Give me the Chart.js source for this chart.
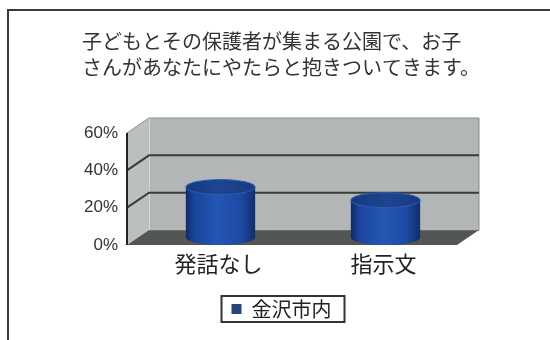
<!DOCTYPE html>
<html lang="ja">
<head>
<meta charset="utf-8">
<title>公園での抱きつき</title>
<script src="https://cdn.jsdelivr.net/npm/chart.js@4.4.1/dist/chart.umd.min.js"></script>
<style>
  html, body { margin: 0; padding: 0; background: #fff; overflow: hidden; }
  #wrap { position: relative; width: 550px; height: 340px; overflow: hidden; }
  #frame {
    position: absolute; left: 7px; top: 9px; width: 620px; height: 400px;
    border: 2px solid #3a3a3a; box-sizing: border-box;
  }
  #chartCanvas { position: absolute; left: 0; top: 0; }
</style>
</head>
<body>
<div id="wrap">
  <div id="frame"></div>
  <canvas id="chartCanvas" width="550" height="340"></canvas>
</div>
<script>
// --- Data ---
const titleLines = [
  "子どもとその保護者が集まる公園で、お子",
  "さんがあなたにやたらと抱きついてきます。"
];
const categories = ["発話なし", "指示文"];
const seriesName = "金沢市内";
const seriesValues = [27, 20];
const yTicks = [0, 20, 40, 60];

// depth of the 3D box (back wall offset from the front plane)
const DX = 22;
const DY = -15;

const JP = "'Noto Sans CJK JP', 'Noto Sans', sans-serif";

function poly(ctx, pts) {
  ctx.beginPath();
  ctx.moveTo(pts[0][0], pts[0][1]);
  for (let i = 1; i < pts.length; i++) ctx.lineTo(pts[i][0], pts[i][1]);
  ctx.closePath();
}

// --- Walls, floor and gridlines ---
const wallsPlugin = {
  id: "walls",
  beforeDatasetsDraw(chart) {
    const { ctx, chartArea: a, scales: { y } } = chart;
    const top = y.getPixelForValue(yTicks[yTicks.length - 1]);
    const bottom = y.getPixelForValue(0);
    ctx.save();

    // left side wall
    ctx.fillStyle = "#bcbfbf";
    poly(ctx, [[a.left, top], [a.left + DX, top + DY], [a.left + DX, bottom + DY], [a.left, bottom]]);
    ctx.fill();

    // back wall
    ctx.fillStyle = "#b3b6b6";
    ctx.fillRect(a.left + DX, top + DY, a.right - a.left, bottom - top);

    // back wall edges
    ctx.strokeStyle = "#8a8d8d";
    ctx.lineWidth = 1;
    ctx.beginPath();
    ctx.moveTo(a.left, top);
    ctx.lineTo(a.left + DX, top + DY);
    ctx.lineTo(a.right + DX, top + DY);
    ctx.lineTo(a.right + DX, bottom + DY);
    ctx.stroke();
    ctx.strokeStyle = "#d4d6d6";
    ctx.beginPath();
    ctx.moveTo(a.left + DX + 0.5, top + DY + 1);
    ctx.lineTo(a.left + DX + 0.5, bottom + DY);
    ctx.stroke();

    // gridlines across side and back walls
    ctx.strokeStyle = "#3a3c3c";
    ctx.lineWidth = 2;
    yTicks.slice(1, -1).forEach(v => {
      const py = y.getPixelForValue(v);
      ctx.beginPath();
      ctx.moveTo(a.left, py);
      ctx.lineTo(a.left + DX, py + DY);
      ctx.lineTo(a.right + DX, py + DY);
      ctx.stroke();
    });

    // floor
    ctx.fillStyle = "#545555";
    poly(ctx, [[a.left, bottom], [a.right, bottom], [a.right + DX, bottom + DY], [a.left + DX, bottom + DY]]);
    ctx.fill();
    ctx.strokeStyle = "#6a6b6b";
    ctx.lineWidth = 1;
    ctx.beginPath();
    ctx.moveTo(a.left + DX, bottom + DY + 0.5);
    ctx.lineTo(a.right + DX, bottom + DY + 0.5);
    ctx.stroke();

    // value axis line
    ctx.strokeStyle = "#222";
    ctx.lineWidth = 2;
    ctx.beginPath();
    ctx.moveTo(a.left, top);
    ctx.lineTo(a.left, bottom);
    ctx.stroke();
    ctx.restore();
  }
};

// --- Cylinders instead of flat bars ---
const cylinderPlugin = {
  id: "cylinders",
  beforeDatasetDraw(chart, args) {
    const ctx = chart.ctx;
    const meta = args.meta;
    const ry = 7.5;
    ctx.save();
    meta.data.forEach(bar => {
      const rx = bar.width / 2;
      const cx = bar.x + DX / 2;
      const yTop = bar.y + DY / 2;
      const yBase = bar.base + DY / 2;

      const body = ctx.createLinearGradient(cx - rx, 0, cx + rx, 0);
      body.addColorStop(0, "#0f2a66");
      body.addColorStop(0.12, "#1b449c");
      body.addColorStop(0.45, "#2456b4");
      body.addColorStop(0.8, "#1d4aa2");
      body.addColorStop(1, "#112d6c");
      ctx.fillStyle = body;
      ctx.beginPath();
      ctx.moveTo(cx - rx, yTop);
      ctx.lineTo(cx - rx, yBase);
      ctx.ellipse(cx, yBase, rx, ry, 0, Math.PI, 0, true);
      ctx.lineTo(cx + rx, yTop);
      ctx.closePath();
      ctx.fill();

      const cap = ctx.createLinearGradient(cx - rx, 0, cx + rx, 0);
      cap.addColorStop(0, "#173a80");
      cap.addColorStop(0.5, "#1f4590");
      cap.addColorStop(1, "#183a80");
      ctx.fillStyle = cap;
      ctx.beginPath();
      ctx.ellipse(cx, yTop, rx, ry, 0, 0, Math.PI * 2);
      ctx.fill();
      ctx.strokeStyle = "#2a5cb8";
      ctx.lineWidth = 1;
      ctx.stroke();
    });
    ctx.restore();
    return false;
  }
};

// --- Box round the legend ---
const legendBoxPlugin = {
  id: "legendBox",
  afterDraw(chart) {
    const hb = chart.legend && chart.legend.legendHitBoxes[0];
    if (!hb) return;
    const ctx = chart.ctx;
    ctx.save();
    ctx.strokeStyle = "#333";
    ctx.lineWidth = 2;
    ctx.strokeRect(hb.left - 10, hb.top - 3, hb.width + 23, hb.height + 6);
    ctx.restore();
  }
};

const canvas = document.getElementById("chartCanvas").getContext("2d");

new Chart(canvas, {
  type: "bar",
  data: {
    labels: categories,
    datasets: [{
      label: seriesName,
      data: seriesValues,
      backgroundColor: "#26467c",
      borderWidth: 0,
      categoryPercentage: 1,
      barPercentage: 0.42
    }]
  },
  options: {
    responsive: false,
    animation: false,
    layout: { padding: { top: 29, left: 82, right: 69, bottom: 11 } },
    plugins: {
      tooltip: { enabled: false },
      title: {
        display: true,
        text: titleLines,
        align: "start",
        color: "#333",
        font: { family: JP, size: 20, weight: "normal", lineHeight: 1.275 },
        padding: { top: 0, bottom: 53 }
      },
      legend: {
        position: "bottom",
        labels: {
          boxWidth: 10,
          boxHeight: 10,
          padding: 10,
          color: "#222",
          font: { family: JP, size: 20 }
        }
      }
    },
    scales: {
      x: {
        grid: { display: false, drawTicks: false },
        border: { display: false },
        ticks: {
          color: "#222",
          padding: 5,
          labelOffset: 9,
          font: { family: JP, size: 22 }
        },
        afterFit: s => { s.height = 44; }
      },
      y: {
        min: 0,
        max: 60,
        grid: { display: false, drawTicks: false },
        border: { display: false },
        ticks: {
          stepSize: 20,
          padding: 9,
          color: "#333",
          font: { family: "'Liberation Sans', Arial, sans-serif", size: 17 },
          callback: v => v + "%"
        },
        afterFit: s => { s.width = 45; }
      },
      // keeps room on the right for the depth of the box
      yRight: {
        position: "right",
        display: true,
        grid: { display: false, drawTicks: false },
        border: { display: false },
        ticks: { display: false },
        afterFit: s => { s.width = 24; }
      }
    }
  },
  plugins: [wallsPlugin, cylinderPlugin, legendBoxPlugin]
});
</script>
</body>
</html>
